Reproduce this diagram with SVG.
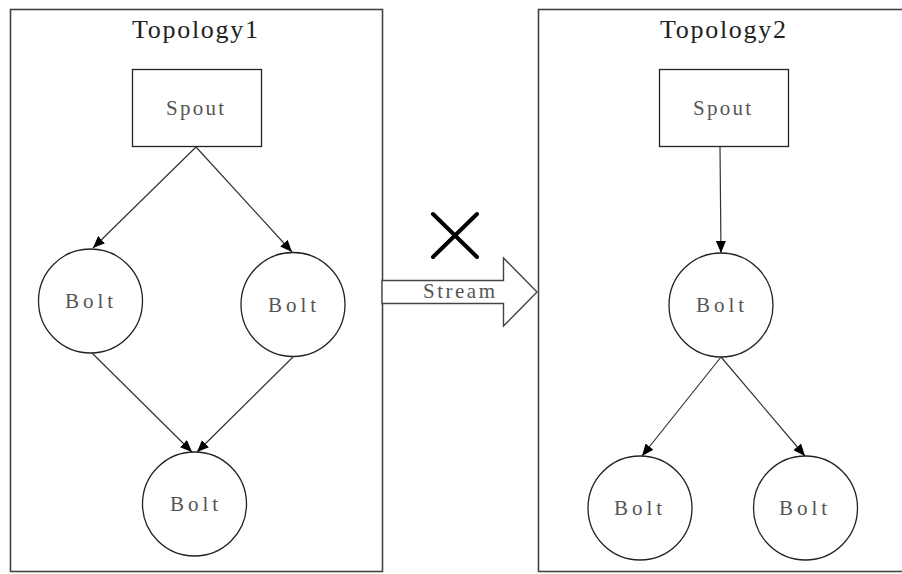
<svg xmlns="http://www.w3.org/2000/svg" width="902" height="574" viewBox="0 0 902 574">
  <style>
    .frame { fill: #fff; stroke: #444; stroke-width: 1.6; }
    .node { fill: #fff; stroke: #222; stroke-width: 1.3; }
    .edge { fill: none; stroke: #333; stroke-width: 1.2; marker-end: url(#arrow); }
    .title { font-family: "Liberation Serif", "DejaVu Serif", serif; font-size: 26px; fill: #222; text-anchor: middle; }
    .label { font-family: "Liberation Serif", "DejaVu Serif", serif; font-size: 21px; fill: #555; text-anchor: middle; }
  </style>
  <defs>
    <marker id="arrow" markerUnits="userSpaceOnUse" markerWidth="13" markerHeight="10" refX="12" refY="5" orient="auto">
      <path d="M0,0 L12,5 L0,10 z" fill="#000"/>
    </marker>
  </defs>

  <rect width="902" height="574" fill="#fff"/>

  <!-- topology frames -->
  <g id="topology1">
    <rect class="frame" x="10.5" y="9.5" width="372" height="562"/>
    <text class="title" x="195" y="38" textLength="126" lengthAdjust="spacing">Topology1</text>
  </g>
  <g id="topology2">
    <rect class="frame" x="538.5" y="9.5" width="400" height="562"/>
    <text class="title" x="723" y="38" textLength="126" lengthAdjust="spacing">Topology2</text>
  </g>

  <!-- stream arrow between topologies, blocked -->
  <g id="stream">
    <polygon points="382,280.5 503.5,280.5 503.5,258 537,292 503.5,326 503.5,303.5 382,303.5" fill="#fff" stroke="#444" stroke-width="1.4"/>
    <text class="label" x="459" y="298" textLength="72" lengthAdjust="spacing">Stream</text>
    <path d="M433,214 L477,257 M477,214 L433,257" stroke="#000" stroke-width="4" stroke-linecap="round"/>
  </g>

  <!-- topology 1 nodes -->
  <g id="t1-spout">
    <rect class="node" x="132.5" y="69.5" width="129" height="77"/>
    <text class="label" x="195" y="115" textLength="58" lengthAdjust="spacing">Spout</text>
  </g>
  <g id="t1-bolt-left">
    <circle class="node" cx="90.5" cy="301" r="52"/>
    <text class="label" x="89" y="308" textLength="48" lengthAdjust="spacing">Bolt</text>
  </g>
  <g id="t1-bolt-right">
    <circle class="node" cx="293" cy="304.5" r="52"/>
    <text class="label" x="292" y="312" textLength="48" lengthAdjust="spacing">Bolt</text>
  </g>
  <g id="t1-bolt-bottom">
    <circle class="node" cx="194.5" cy="504" r="52"/>
    <text class="label" x="194" y="511" textLength="48" lengthAdjust="spacing">Bolt</text>
  </g>

  <!-- topology 2 nodes -->
  <g id="t2-spout">
    <rect class="node" x="659.5" y="69.5" width="129" height="77"/>
    <text class="label" x="722" y="115" textLength="58" lengthAdjust="spacing">Spout</text>
  </g>
  <g id="t2-bolt-top">
    <circle class="node" cx="721" cy="305" r="52"/>
    <text class="label" x="720" y="312" textLength="48" lengthAdjust="spacing">Bolt</text>
  </g>
  <g id="t2-bolt-left">
    <circle class="node" cx="640" cy="508" r="52"/>
    <text class="label" x="638" y="515" textLength="48" lengthAdjust="spacing">Bolt</text>
  </g>
  <g id="t2-bolt-right">
    <circle class="node" cx="805.5" cy="508" r="52"/>
    <text class="label" x="803" y="515" textLength="48" lengthAdjust="spacing">Bolt</text>
  </g>

  <!-- connectors -->
  <g id="edges">
    <line class="edge" x1="196" y1="147" x2="93" y2="248"/>
    <line class="edge" x1="196" y1="147" x2="292" y2="252"/>
    <line class="edge" x1="92" y1="353" x2="192" y2="452"/>
    <line class="edge" x1="293" y1="357" x2="197" y2="452"/>
    <line class="edge" x1="720" y1="147" x2="721" y2="253"/>
    <line class="edge" x1="721" y1="357" x2="642" y2="456"/>
    <line class="edge" x1="721" y1="357" x2="805" y2="456"/>
  </g>
</svg>
